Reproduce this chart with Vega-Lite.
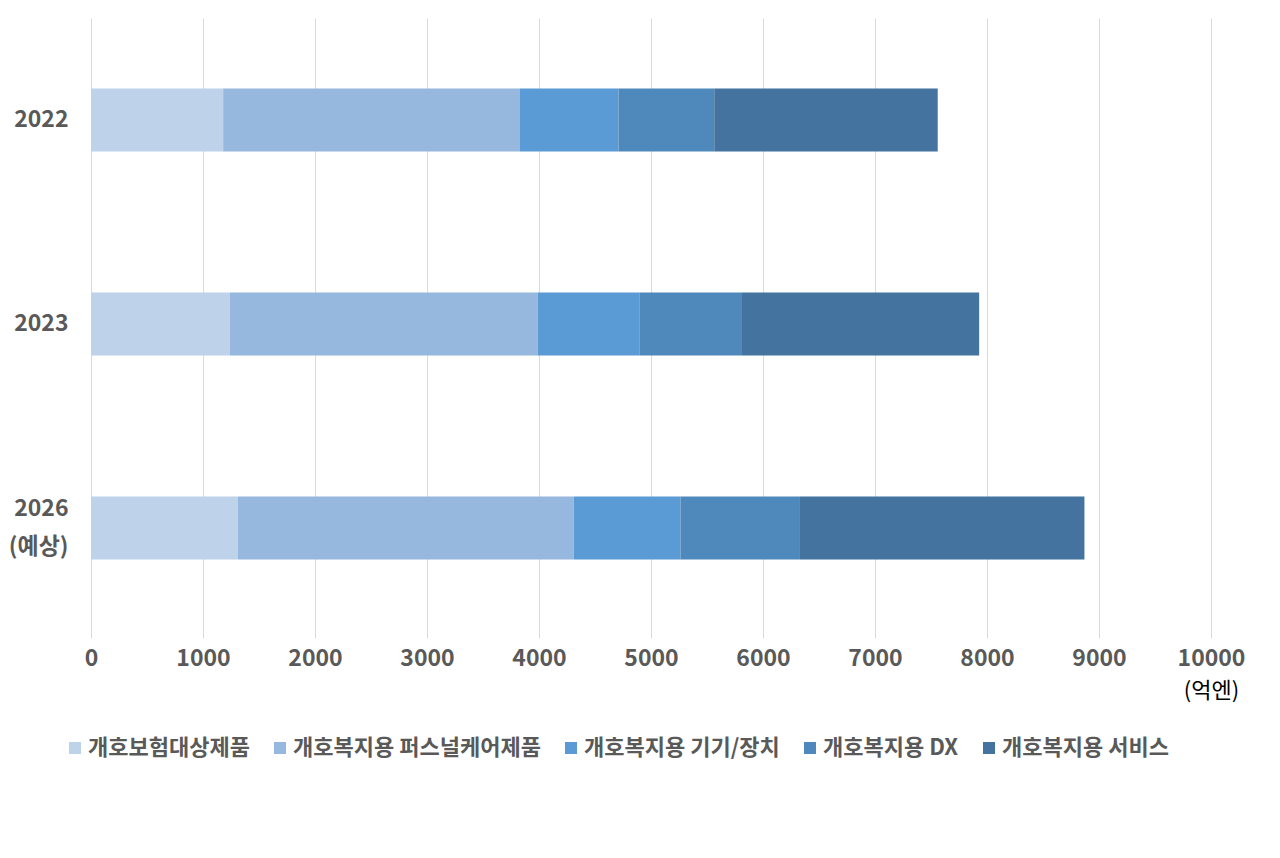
{
  "$schema": "https://vega.github.io/schema/vega-lite/v6.json",
  "width": 1120,
  "height": 612,
  "autosize": "none",
  "padding": {"left": 91, "top": 18, "right": 69, "bottom": 228},
  "background": "white",
  "data": {
    "values": [
      {"year": "2022", "category": "개호보험대상제품", "order": 1, "value": 1180},
      {"year": "2022", "category": "개호복지용 퍼스널케어제품", "order": 2, "value": 2650},
      {"year": "2022", "category": "개호복지용 기기/장치", "order": 3, "value": 880},
      {"year": "2022", "category": "개호복지용 DX", "order": 4, "value": 855},
      {"year": "2022", "category": "개호복지용 서비스", "order": 5, "value": 1995},
      {"year": "2023", "category": "개호보험대상제품", "order": 1, "value": 1240},
      {"year": "2023", "category": "개호복지용 퍼스널케어제품", "order": 2, "value": 2750},
      {"year": "2023", "category": "개호복지용 기기/장치", "order": 3, "value": 910},
      {"year": "2023", "category": "개호복지용 DX", "order": 4, "value": 905},
      {"year": "2023", "category": "개호복지용 서비스", "order": 5, "value": 2125},
      {"year": "2026 (예상)", "category": "개호보험대상제품", "order": 1, "value": 1310},
      {"year": "2026 (예상)", "category": "개호복지용 퍼스널케어제품", "order": 2, "value": 3000},
      {"year": "2026 (예상)", "category": "개호복지용 기기/장치", "order": 3, "value": 955},
      {"year": "2026 (예상)", "category": "개호복지용 DX", "order": 4, "value": 1065},
      {"year": "2026 (예상)", "category": "개호복지용 서비스", "order": 5, "value": 2540}
    ]
  },
  "mark": {"type": "bar"},
  "encoding": {
    "y": {
      "field": "year",
      "type": "nominal",
      "sort": null,
      "scale": {"paddingInner": 0.69, "paddingOuter": 0.345},
      "axis": {
        "title": null,
        "ticks": false,
        "domain": false,
        "grid": false,
        "labelFont": "Noto Sans CJK KR",
        "labelFontSize": 23,
        "labelFontWeight": "bold",
        "labelColor": "#595959",
        "labelPadding": 23,
        "labelLineHeight": 38,
        "labelOffset": {"condition": {"test": "datum.value == '2026 (예상)'", "value": -19}, "value": 0},
        "labelExpr": "datum.value == '2026 (예상)' ? ['2026', '(예상)'] : datum.value"
      }
    },
    "x": {
      "field": "value",
      "type": "quantitative",
      "stack": "zero",
      "scale": {"domain": [0, 10000], "nice": false},
      "axis": {
        "values": [0, 1000, 2000, 3000, 4000, 5000, 6000, 7000, 8000, 9000, 10000],
        "format": "d",
        "grid": true,
        "gridColor": "#D9D9D9",
        "gridWidth": 1,
        "tickColor": "#D9D9D9",
        "tickSize": 8,
        "domain": false,
        "labelFlush": false,
        "labelOverlap": false,
        "labelFont": "Noto Sans CJK KR",
        "labelFontSize": 23,
        "labelFontWeight": "bold",
        "labelColor": "#595959",
        "labelPadding": 9,
        "title": "(억엔)",
        "titleFont": "Noto Sans CJK KR",
        "titleFontSize": 22,
        "titleFontWeight": "normal",
        "titleColor": "#000000",
        "titleX": 1120,
        "titleY": 50,
        "titleAlign": "center",
        "titleBaseline": "top",
        "titleAngle": 0
      }
    },
    "color": {
      "field": "category",
      "type": "nominal",
      "scale": {
        "domain": ["개호보험대상제품", "개호복지용 퍼스널케어제품", "개호복지용 기기/장치", "개호복지용 DX", "개호복지용 서비스"],
        "range": ["#BED2EA", "#97B8DE", "#5A9AD5", "#4F89BB", "#43739E"]
      },
      "legend": {
        "title": null,
        "orient": "none",
        "direction": "horizontal",
        "legendX": -27,
        "legendY": 719,
        "symbolType": "square",
        "symbolSize": 144,
        "symbolStrokeWidth": 0,
        "labelFont": "Noto Sans CJK KR",
        "labelFontSize": 22,
        "labelFontWeight": "bold",
        "labelColor": "#595959",
        "labelOffset": 2,
        "columnPadding": 19,
        "labelLimit": 400
      }
    },
    "order": {"field": "order", "type": "quantitative"}
  },
  "config": {"view": {"stroke": null}}
}
